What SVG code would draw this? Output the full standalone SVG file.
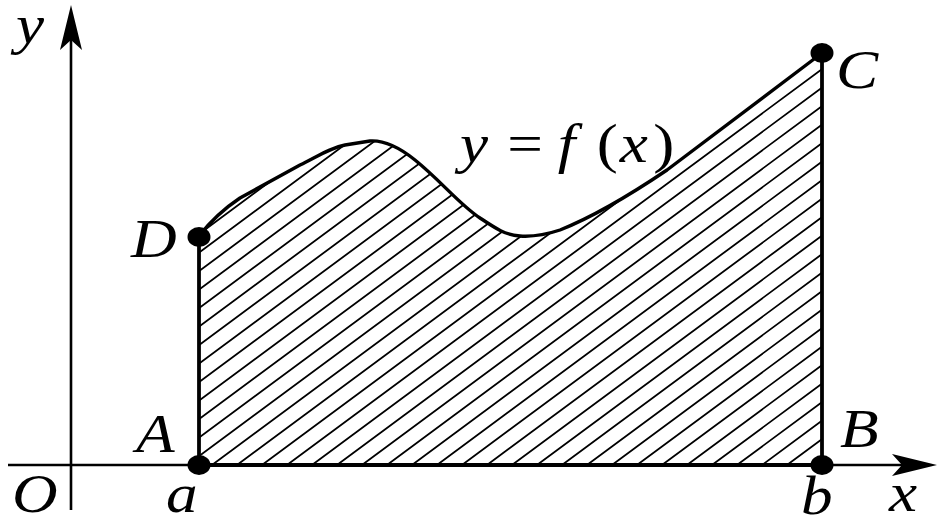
<svg xmlns="http://www.w3.org/2000/svg" width="940" height="526" viewBox="0 0 940 526">
<style>
.axis{stroke:#000;stroke-width:2.6;fill:none}
.edge{stroke:#000;stroke-width:3.8;fill:none;stroke-linejoin:round}
.curve{stroke:#000;stroke-width:3.4;fill:none;stroke-linejoin:round;stroke-linecap:round}
.hatch{stroke:#000;stroke-width:1.8;fill:none}
.dot{fill:#000}
.lbl{font-family:"Liberation Serif","Times New Roman",serif;font-style:italic;font-size:55px;fill:#000}
.up{font-family:"Liberation Serif","Times New Roman",serif;font-style:normal;font-size:55px;fill:#000}
</style>
<defs>
<clipPath id="region">
<path d="M199,465 L199,236 C210,222 225,208 240,198 L300,165 C320,155 330,148 345,145 L370,141 C385,140 400,148 415,160 C440,180 460,205 480,218 C495,228 505,235 520,236 C535,237 548,234 560,230 C590,218 630,195 667,170 L822,53 L822,465 Z"/>
</clipPath>
</defs>
<g id="hatching" clip-path="url(#region)">
<path class="hatch" d="M-113,465 l600,-444 M-88,465 l600,-444 M-63,465 l600,-444 M-38,465 l600,-444 M-13,465 l600,-444 M12,465 l600,-444 M37,465 l600,-444 M62,465 l600,-444 M87,465 l600,-444 M112,465 l600,-444 M137,465 l600,-444 M162,465 l600,-444 M187,465 l600,-444 M212,465 l600,-444 M237,465 l600,-444 M262,465 l600,-444 M287,465 l600,-444 M312,465 l600,-444 M337,465 l600,-444 M362,465 l600,-444 M387,465 l600,-444 M412,465 l600,-444 M437,465 l600,-444 M462,465 l600,-444 M487,465 l600,-444 M512,465 l600,-444 M537,465 l600,-444 M562,465 l600,-444 M587,465 l600,-444 M612,465 l600,-444 M637,465 l600,-444 M662,465 l600,-444 M687,465 l600,-444 M712,465 l600,-444 M737,465 l600,-444 M762,465 l600,-444 M787,465 l600,-444 M812,465 l600,-444"/>
</g>
<g id="axes">
<path class="axis" d="M8,465 L905,465"/>
<path class="axis" d="M71,510 L71,30"/>
<path d="M937,465 L892,454 L902,465 L892,476 Z" fill="#000"/>
<path d="M71,5 L60,50 L71,40 L82,50 Z" fill="#000"/>
</g>
<g id="connectors">
<path class="edge" d="M199,465 L199,236"/>
<path class="edge" d="M199,465 L822,465"/>
<path class="edge" d="M822,465 L822,53"/>
<path class="curve" d="M199,236 C210,222 225,208 240,198 L300,165 C320,155 330,148 345,145 L370,141 C385,140 400,148 415,160 C440,180 460,205 480,218 C495,228 505,235 520,236 C535,237 548,234 560,230 C590,218 630,195 667,170 L822,53"/>
</g>
<g id="A"><ellipse class="dot" cx="199" cy="465" rx="11.5" ry="10"/><text class="lbl" transform="translate(136,452) scale(1.15,1)">A</text><text class="lbl" transform="translate(166,512) scale(1.15,1)">a</text></g>
<g id="B"><ellipse class="dot" cx="822" cy="465" rx="11.5" ry="10"/><text class="lbl" transform="translate(840,447) scale(1.15,1)">B</text><text class="lbl" transform="translate(801,514) scale(1.15,1)">b</text></g>
<g id="C"><ellipse class="dot" cx="822" cy="53" rx="11.5" ry="10"/><text class="lbl" transform="translate(836,88) scale(1.15,1)">C</text></g>
<g id="D"><ellipse class="dot" cx="199" cy="237" rx="11.5" ry="10"/><text class="lbl" transform="translate(131,257) scale(1.15,1)">D</text></g>
<g id="O"><text class="lbl" transform="translate(12,512) scale(1.15,1)">O</text></g>
<g id="xlabel"><text class="lbl" transform="translate(889,511) scale(1.15,1)">x</text></g>
<g id="ylabel"><text class="lbl" transform="translate(16,43) scale(1.15,1)">y</text></g>
<g id="func"><text class="lbl" transform="translate(460,162) scale(1.15,1)"><tspan x="0">y</tspan><tspan class="up" x="41">=</tspan><tspan x="85">f</tspan><tspan class="up" x="119">(</tspan><tspan x="139">x</tspan><tspan class="up" x="168">)</tspan></text></g>
</svg>
